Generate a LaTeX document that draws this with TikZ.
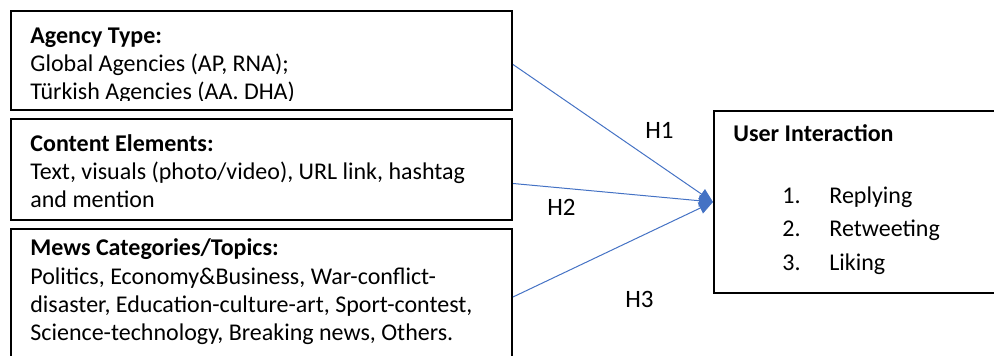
\documentclass[tikz,border=0pt]{standalone}
\usepackage{fontspec}
\setmainfont{Carlito}
\usepackage{xcolor}
\usetikzlibrary{arrows.meta,positioning}
\definecolor{linkblue}{HTML}{4472C4}

\begin{document}
\begin{tikzpicture}[x=0.5pt,y=-0.5pt,
    factor/.style={draw=black,line width=1pt,anchor=north west,inner sep=0pt,minimum width=250.5pt},
    body/.style={anchor=base west,align=left,inner sep=0pt,font=\fontsize{12}{14.1}\selectfont},
    link/.style={draw=linkblue,line width=0.5pt,-{Triangle[length=7pt,width=6pt]}},
    hyp/.style={anchor=base west,inner sep=0pt,font=\fontsize{12.5}{14}\selectfont}]
    \useasboundingbox (0,0) rectangle (994,356);

    % the three factor boxes
    \node[factor,minimum height=49.5pt] (agency) at (10,10) {};
    \node[factor,minimum height=50.5pt] (content) at (10,118) {};
    \node[factor,minimum height=76pt] (topics) at (10,228) {};
    % outcome box
    \node[factor,minimum width=150pt,minimum height=91pt] (inter) at (713,110) {};

    % base anchor = last line
    \begin{scope}
      \clip ([xshift=1pt,yshift=-1pt]agency.north west) rectangle ([yshift=5pt]agency.south east);
      \node[body] (agencytxt) at (30,99.5)
      {\textbf{Agency Type:}\\Global Agencies (AP, RNA);\\Türkish Agencies (AA. DHA)};
    \end{scope}
    \node[body] (contenttxt) at (30,208)
    {\textbf{Content Elements:}\\Text, visuals (photo/video), URL link, hashtag\\and mention};
    \node[body] (topicstxt) at (30,340.5)
    {\textbf{Mews Categories/Topics:}\\Politics, Economy\&Business, War-conflict-\\disaster, Education-culture-art, Sport-contest,\\Science-technology, Breaking news, Others.};

    \node[body] (intertxt) at (733,142) {\textbf{User Interaction}};
    \foreach \n/\t in {1/Replying,2/Retweeting,3/Liking}
      \node[body] (item\n) at (782,{170+33.5*\n}) {\makebox[23.5pt][l]{\n.}\t};

    % hypotheses
    \draw[link] ([yshift=-2pt]agency.east) -- (inter.west);
    \draw[link] ([yshift=-7pt]content.east) -- (inter.west);
    \draw[link] ([yshift=4pt]topics.east) -- (inter.west);
    \node[hyp] (h1) at (645,139) {H1};
    \node[hyp] (h2) at (547,216) {H2};
    \node[hyp] (h3) at (625,308) {H3};
\end{tikzpicture}
\end{document}
